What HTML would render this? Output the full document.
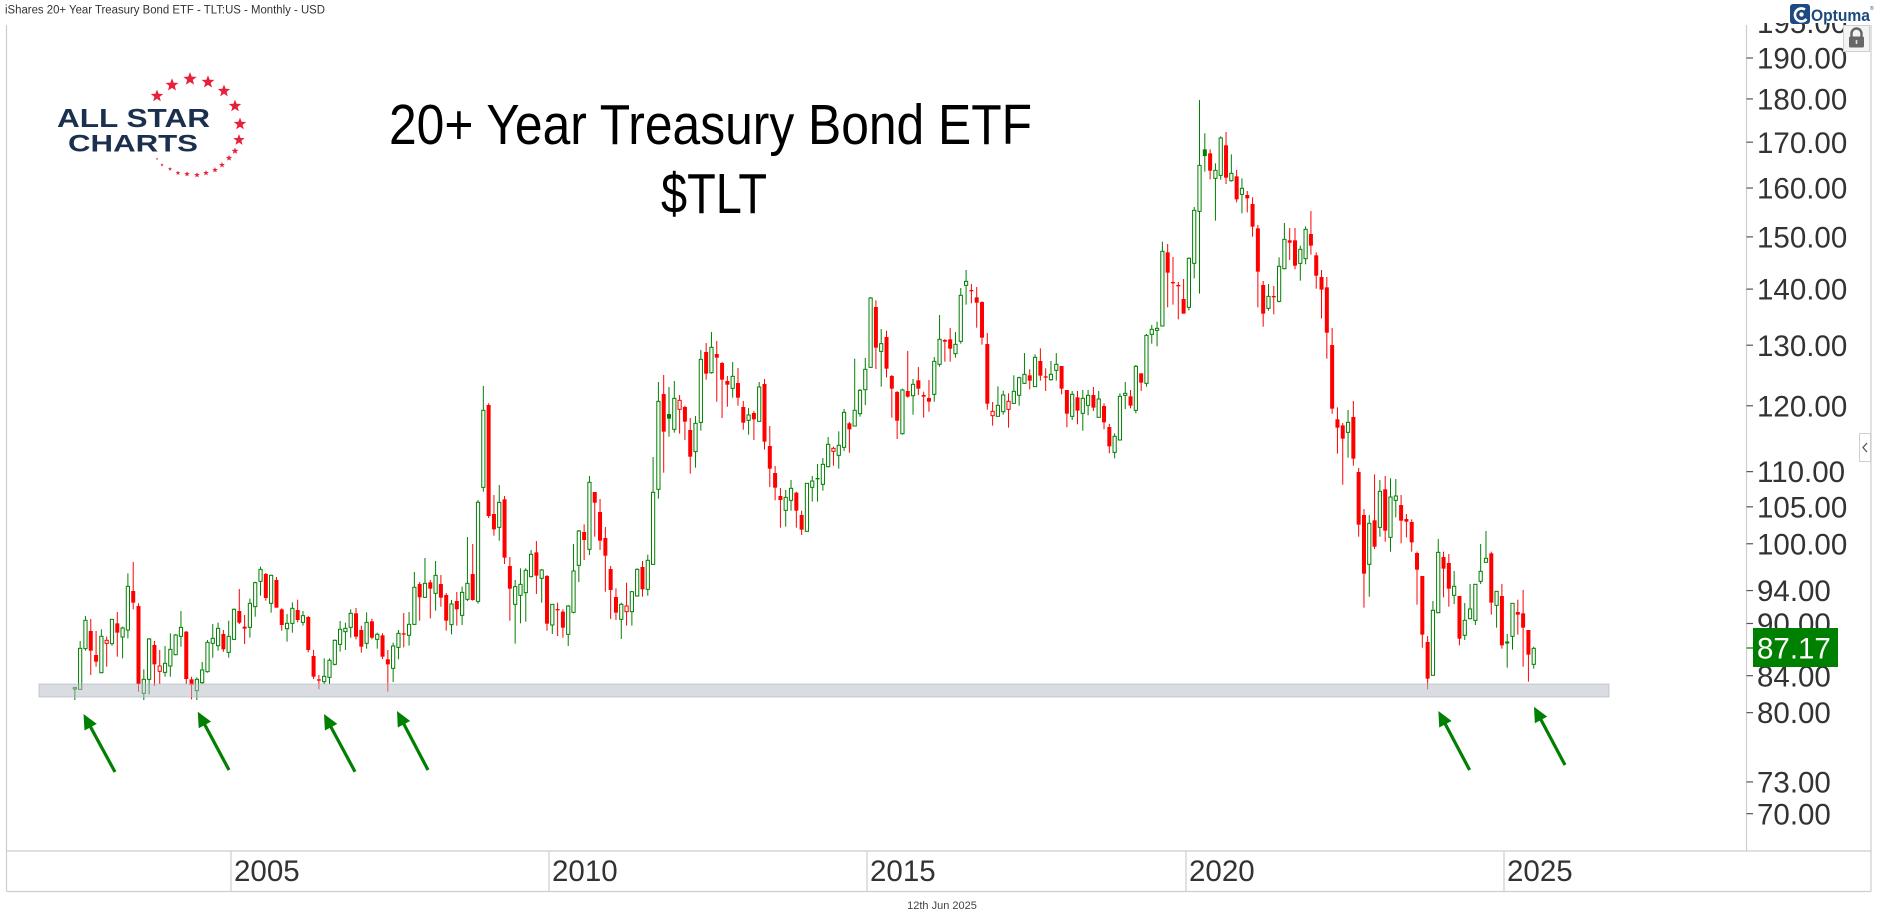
<!DOCTYPE html>
<html><head><meta charset="utf-8"><style>
html,body{margin:0;padding:0;background:#fff;width:1878px;height:924px;overflow:hidden}
svg{display:block}
text{font-family:"Liberation Sans",sans-serif}
</style></head><body>
<svg id="c" width="1878" height="924" viewBox="0 0 1878 924" xmlns="http://www.w3.org/2000/svg">
<defs><clipPath id="axclip"><rect x="1747" y="23" width="124" height="828"/></clipPath></defs>
<rect width="1878" height="924" fill="#fff"/>
<text x="5" y="13.5" font-size="11.5" fill="#333" textLength="320" lengthAdjust="spacingAndGlyphs">iShares 20+ Year Treasury Bond ETF - TLT:US - Monthly - USD</text>
<g stroke="#cdcdcd" stroke-width="1.2" fill="none">
<line x1="6.5" y1="25" x2="6.5" y2="891.5"/>
<line x1="1871" y1="25" x2="1871" y2="891.5"/>
<line x1="6.5" y1="891.5" x2="1871" y2="891.5"/>
<line x1="6.5" y1="851" x2="1871" y2="851"/>
<line x1="1746.5" y1="25" x2="1746.5" y2="851"/>
<line x1="231" y1="851" x2="231" y2="891.5"/>
<line x1="549" y1="851" x2="549" y2="891.5"/>
<line x1="867" y1="851" x2="867" y2="891.5"/>
<line x1="1186" y1="851" x2="1186" y2="891.5"/>
<line x1="1504" y1="851" x2="1504" y2="891.5"/>
</g>
<g font-size="29.5" fill="#333">
<text x="234" y="881">2005</text>
<text x="552" y="881">2010</text>
<text x="870" y="881">2015</text>
<text x="1189" y="881">2020</text>
<text x="1507" y="881">2025</text>
</g>
<text x="942" y="909" font-size="11" fill="#444" text-anchor="middle">12th Jun 2025</text>
<g id="candles"></g>
<rect x="39" y="684" width="1570" height="13" fill="rgb(179,187,197)" fill-opacity="0.5" stroke="rgb(170,178,188)" stroke-opacity="0.6" stroke-width="1"/>
<g id="arrows"></g>
<text x="710.5" y="144" font-size="57" fill="#000" text-anchor="middle" textLength="643" lengthAdjust="spacingAndGlyphs">20+ Year Treasury Bond ETF</text>
<text x="714" y="213" font-size="57" fill="#000" text-anchor="middle" textLength="106" lengthAdjust="spacingAndGlyphs">$TLT</text>
<g id="stars" fill="#e8203a"></g>
<text x="57" y="127" font-size="26" font-weight="bold" fill="#1b2f4f" textLength="153" lengthAdjust="spacingAndGlyphs">ALL STAR</text>
<text x="68" y="151.5" font-size="24" font-weight="bold" fill="#1b2f4f" textLength="130" lengthAdjust="spacingAndGlyphs">CHARTS</text>
<g id="axis" font-size="29.5" fill="#333"></g>
<rect x="1753" y="628" width="85" height="39" fill="#008000"/>
<line x1="1746.5" y1="648" x2="1753" y2="648" stroke="#008000" stroke-width="1.2"/>
<text x="1757" y="658.5" font-size="29.5" fill="#fff">87.17</text>
<rect x="1790" y="4" width="20" height="20" rx="3" fill="#1c4a82"/>
<path d="M1805 9.5 A6.5 6.5 0 1 0 1806.5 19" stroke="#fff" stroke-width="2.6" fill="none"/>
<circle cx="1801.5" cy="14.5" r="2.2" fill="#fff"/>
<text x="1811" y="21" font-size="17" font-weight="bold" fill="#1c4a82" textLength="59" lengthAdjust="spacingAndGlyphs">Optuma</text>
<text x="1870" y="10" font-size="5" fill="#1c4a82">®</text>
<rect x="1843.5" y="25.5" width="26" height="26" fill="#f4f4f4" stroke="#cfcfcf"/>
<path d="M1851.5 37 V33.5 A5 5 0 0 1 1861.5 33.5 V37" stroke="#666" stroke-width="2.4" fill="none"/>
<rect x="1849" y="36.5" width="15" height="11" rx="1.5" fill="#666"/>
<rect x="1855.7" y="40" width="1.6" height="4" fill="#ddd"/>
<rect x="1859.5" y="433.5" width="11" height="28" fill="#fff" stroke="#cfcfcf"/>
<polyline points="1867,443 1863,447.5 1867,452" stroke="#555" stroke-width="1.3" fill="none"/>
</svg>
<script>
(function(){
var NS="http://www.w3.org/2000/svg";
function el(parent,tag,attrs,txt){var e=document.createElementNS(NS,tag);for(var k in attrs)e.setAttribute(k,attrs[k]);if(txt!==undefined)e.textContent=txt;parent.appendChild(e);return e;}
var segs=[[360,"982,983,987,1020,g 843,865,988,988,g 768,781,866,872,g 777,813,872,945,r 813,885,905,920,r 808,829,938,940,g 830,841,850,920,R 778,778,851,857,g 756,790,818,890,r 800,804,831,895,g 640,679,810,835,g 606,693,728,748,r 730,738,972,995,r 928,958,1000,1020,g 834,837,958,1003,g 843,855,913,978,r 870,918,934,972,R 858,910,937,950,g 820,868,918,950,g 822,825,884,886,g 753,802,829,860,g 813,815,957,972,r 950,958,975,1018,r 952,958,992,1020,g 906,930,968,972,g 840,847,935,938,g 792,835,850,893,g 788,805,857,872,g 810,822,868,875,r 782,829,877,893,g 745,748,838,840,g 687,753,788,792,r 765,800,806,852,r 716,730,802,833,g 665,668,740,770,g 620,628,664,707,g 639,642,714,722,r 644,646,730,758,g 651,660,743,743,r 745,748,795,812,r 762,790,806,845,g 727,745,790,818,g 719,750,780,787,r 753,767,787,797,g 768,771,870,877,r 870,888,950,957,r 945,958,960,988,r 895,949,965,972,g 895,901,952,972,g 838,841,913,916,g 783,808,853,875,g 788,805,815,870,g 748,760,802,833,g 744,760,830,838,r 797,810,860,878,r 757,787,850,866,g 776,784,833,838,r 818,823,838,866,g 820,826,890,897,r 870,898,913,995,r 848,858,925,966,g 810,820,862,898,g 759,820,822,862,r 756,793,826,857,g 636,682,793,795,g 666,672,712,782,r 594,670,712,714,g 660,667,686,775,r 603,646,700,752,g 645,672,713,740,r 699,705,782,812,r 720,732,794,823,g 696,723,748,797,r 680,697,766,795,g 531,670,718,723,g 552,642,720,722,r 420,427,724,731,g 78,151,382,395,g 130,135,468,474,r 405,462,508,527,r 375,427,502,542,g 408,418,593,612,r 591,618,686,782,r 660,680,733,851,g 625,673,706,790,g 625,631,698,785,g 570,583,650,652,g 543,577,647,702,r 627,630,655,728,g 645,648,791,812,r 733,733,795,822,g 728,747,749,828,r"],
[260,"1048,1055,1103,1133,r 1035,1038,1123,1158,g 852,933,1057,1060,g 810,813,916,966,g 793,816,840,900,r 648,667,868,885,g 696,696,728,830,r 717,756,842,870,r 801,834,887,995,r 918,927,990,1077,r 985,1011,1058,1080,r 1028,1033,1078,1137,g 968,1038,1055,1097,R 993,995,1055,1097,g 925,928,1008,1010,g 903,921,988,1010,r 884,901,988,1007,g 591,697,913,913,g 366,424,688,716,g 345,402,515,638,r 381,462,476,530,G 363,415,508,518,g 405,421,448,521,R 437,441,485,540,r 474,510,590,641,r 468,490,575,623,g 270,298,487,512,g 249,276,341,359,r 216,262,338,341,g 243,282,293,425,r 306,309,359,474,r 348,363,374,440,r 306,349,385,413,g 324,369,413,437,r 423,441,488,509,r 444,465,481,524,g 453,459,478,540,r 366,381,484,484,g 357,372,545,569,r 498,558,626,681,r 618,639,683,721,r 684,708,720,803,r 690,712,751,800,g 660,685,721,752,g 695,698,752,803,r 752,765,809,825,r 670,670,814,814,g 648,663,682,725,g 612,654,658,725,G 594,613,673,692,g 531,553,620,622,g 560,565,574,617,R 514,556,586,626,g 447,457,562,573,g 486,490,508,578,r 296,451,498,499,g 387,391,461,470,g 294,328,389,435,g 111,114,322,324,g 121,141,263,327,r 207,251,274,380,g 212,231,326,352,r 345,348,386,473,r 393,396,482,537,r 386,390,521,524,g 273,393,410,413,r 357,373,407,464,g 321,361,386,405,r 395,405,410,473,r 360,414,425,455,r 291,304,403,425,g 165,238,313,320,g 237,240,245,305,r 204,238,266,305,r 216,253,281,293,g 84,106,244,251,g 30,64,76,134,g 72,90,92,130,r 81,112,128,203,r 124,126,233,254,r 219,252,431,449,r 426,454,467,497,R 379,436,469,469,g 392,405,455,464,g 400,424,448,503,R 346,394,430,432,g 350,353,406,437,g"],
[85,"804,868,895,897,g 853,871,887,913,r 808,817,905,905,g 790,828,872,887,r 850,874,878,918,r 828,868,884,887,g 804,838,856,887,g 843,843,911,928,r 915,915,986,1027,r 918,928,994,1005,g 918,937,977,1018,r 915,940,985,1037,g 915,931,961,991,g 906,930,968,978,r 918,942,997,997,g 955,963,1012,1033,r 1017,1026,1084,1105,r 1045,1054,1102,1120,g 925,934,1065,1065,g 891,925,931,972,g 915,934,962,970,r 840,844,976,985,g 865,865,893,918,r 747,751,895,905,g 720,733,748,776,g 710,730,736,784,g 470,499,723,723,g 477,502,563,667,r 516,591,593,659,r 591,600,604,703,r 582,642,686,686,r 517,520,667,676,g 366,376,535,580,g 45,241,379,626,g 145,193,213,260,G 193,205,257,283,r 235,256,280,407,g 154,159,271,284,g 141,181,278,297,r 208,265,287,290,g 255,274,343,352,r 280,310,328,385,g 318,330,340,382,r 337,357,425,455,r 420,430,560,667,r 588,600,686,725,r 597,634,670,677,g 603,633,635,688,r 517,544,649,652,g"],
[200,"69,118,206,208,g 84,121,128,180,r 84,121,197,208,r 137,148,190,242,g 79,88,176,193,g 33,102,137,164,r 157,166,227,266,r 210,231,269,355,r 231,262,398,476,r 384,435,626,641,r 622,658,683,761,r 669,676,716,854,r 630,667,697,773,g 603,651,776,797,r 804,816,974,1010,r 927,945,1121,1223,r 945,970,1093,1190,g 823,961,1040,1047,r 840,874,982,1010,g 828,868,992,1025,r 835,891,1012,1055,g 837,888,901,952,g 885,915,962,1030,r 942,957,965,1012,r 958,966,1027,1055,r 1055,1059,1109,1214,r 1128,1128,1304,1343,r 1308,1326,1436,1468,r 1203,1231,1426,1426,g 1017,1057,1238,1240,g 1055,1071,1106,1192,r 1062,1089,1166,1220,r 1113,1159,1186,1212,g 1188,1188,1316,1336,r 1209,1261,1306,1320,g 1152,1227,1256,1258,g 1153,1153,1261,1275,g 1032,1114,1144,1152,g 993,1075,1087,1087,g 1055,1060,1208,1244,r 1174,1174,1216,1283,g 1152,1188,1336,1346,r 1302,1326,1328,1403,g 1209,1210,1309,1349,g 1199,1236,1244,1304,r 1170,1240,1283,1400,r 1290,1290,1364,1445,r 1340,1345,1393,1406,g"]];
var g=document.getElementById('candles');
var i=0;
segs.forEach(function(s){
  var y0=s[0];
  s[1].trim().split(/\s+/).forEach(function(item){
    var p=item.split(',');
    var cx=234+(i-30)*5.305; i++;
    var wt=y0+p[0]/3, bt=y0+p[1]/3, bb=y0+p[2]/3, wb=y0+p[3]/3, t=p[4];
    var col=(t=='g'||t=='G')?'#008000':'#ff0000';
    var hollow=(t=='g'||t=='R');
    el(g,'line',{x1:cx,x2:cx,y1:wt,y2:wb,stroke:col,'stroke-width':1});
    var h=bb-bt;
    if(hollow){
      el(g,'rect',{x:cx-1.6,y:bt,width:3.2,height:Math.max(h,1),fill:'#fff',stroke:col,'stroke-width':1});
    } else {
      el(g,'rect',{x:cx-2,y:bt,width:4,height:Math.max(h,1.3),fill:col});
    }
  });
});
// arrows
var ag=document.getElementById('arrows');
[[83.5,714,115,772],[197.8,711.7,229,770],[324,714,355,771.7],[397,711,428,770],[1438.4,711,1469.6,770],[1534,706.7,1565,765]].forEach(function(a){
  var tx=a[0],ty=a[1],sx=a[2],sy=a[3];
  var dx=tx-sx,dy=ty-sy,L=Math.sqrt(dx*dx+dy*dy),ux=dx/L,uy=dy/L;
  var hl=15,hw=7;
  var bx=tx-ux*hl,by=ty-uy*hl,px=-uy,py=ux;
  el(ag,'line',{x1:sx,y1:sy,x2:bx+ux*2,y2:by+uy*2,stroke:'#008000','stroke-width':3.2});
  el(ag,'polygon',{points:tx+','+ty+' '+(bx+px*hw)+','+(by+py*hw)+' '+(bx-px*hw)+','+(by-py*hw),fill:'#008000'});
});
// stars
var sg=document.getElementById('stars');
[[157,96,6.5],[172,85,6.8],[190,79,7],[208,82,6.8],[224,91,6.5],[235,106,6.5],[240,124,6.5],[239,140,6],[235,151,3.6],[229,158,3.3],[222,165,3.1],[215,170,3],[206,173,3],[197,175,3],[187,174,2.9],[178,173,2.5],[170,169,2.1],[162,165,1.7],[157,159,1.3]].forEach(function(s){
  var pts=[];
  for(var k=0;k<10;k++){var r=(k%2==0)?s[2]:s[2]*0.42;var ang=-Math.PI/2+k*Math.PI/5;pts.push((s[0]+r*Math.cos(ang)).toFixed(2)+','+(s[1]+r*Math.sin(ang)).toFixed(2));}
  el(sg,'polygon',{points:pts.join(' ')});
});
// y axis
var ax=document.getElementById('axis');
function yp(p){return 58+756.8*(Math.log(190)-Math.log(p));}
var labels=[[190,'190.00'],[180,'180.00'],[170,'170.00'],[160,'160.00'],[150,'150.00'],[140,'140.00'],[130,'130.00'],[120,'120.00'],[110,'110.00'],[105,'105.00'],[100,'100.00'],[94,'94.00'],[90,'90.00'],[84,'84.00'],[80,'80.00'],[73,'73.00'],[70,'70.00']];
labels.forEach(function(l){
  var y=yp(l[0]);
  el(ax,'line',{x1:1746.5,x2:1753,y1:y,y2:y,stroke:'#555','stroke-width':1.2});
  el(ax,'text',{x:1757,y:y+10.6},l[1]);
});
var top=el(ax,'text',{x:1757,y:33,'clip-path':'url(#axclip)'},'195.00');
})();
</script>
</body></html>
